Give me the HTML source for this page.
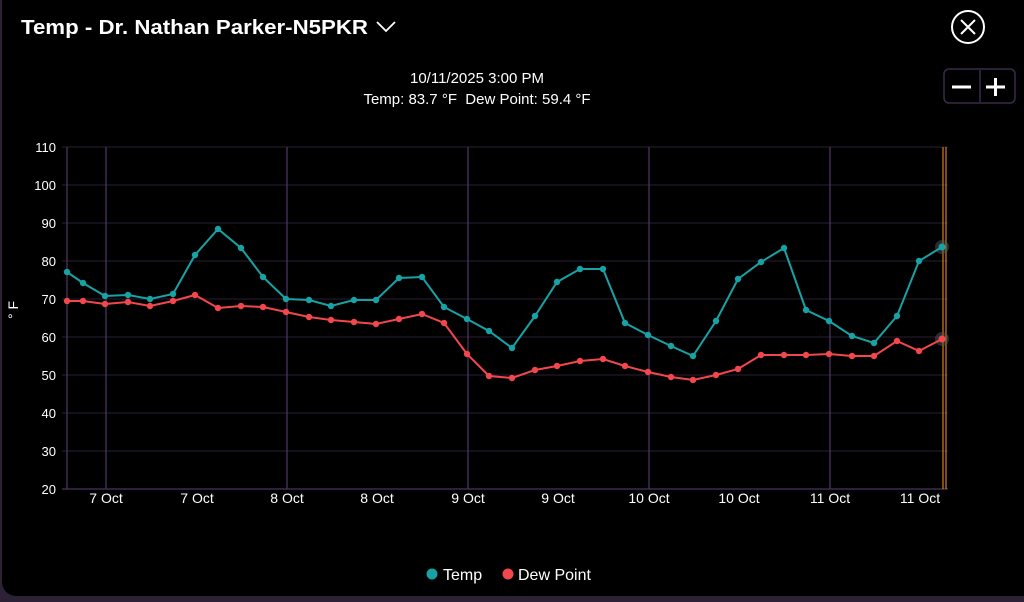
<!DOCTYPE html>
<html><head><style>
html,body{margin:0;padding:0;background:#2d2135;width:1024px;height:602px;overflow:hidden}
#card{position:absolute;left:2px;top:-20px;width:1040px;height:616px;background:#000;border-radius:14px}
svg{position:absolute;left:0;top:0}
text{font-family:"Liberation Sans",sans-serif;fill:#fff}
</style></head><body>
<div id="card"></div>
<svg width="1024" height="602" viewBox="0 0 1024 602">
<text x="21" y="34" font-size="20" font-weight="bold" textLength="347" lengthAdjust="spacingAndGlyphs">Temp - Dr. Nathan Parker-N5PKR</text>
<polyline points="377,22 386,31 395,22" fill="none" stroke="#fff" stroke-width="1.8"/>
<circle cx="968" cy="27" r="16" fill="none" stroke="#fff" stroke-width="2"/>
<path d="M961,20 L975,34 M975,20 L961,34" stroke="#fff" stroke-width="2"/>
<rect x="944" y="69" width="71" height="34" rx="5" fill="none" stroke="#3b2a4a" stroke-width="1.5"/>
<line x1="980" y1="70" x2="980" y2="102" stroke="#3b2a4a" stroke-width="1.5"/>
<path d="M952,87 L971,87 M986,87 L1005,87 M995.5,78 L995.5,96" stroke="#fff" stroke-width="3"/>
<text x="477" y="83" font-size="15" text-anchor="middle">10/11/2025 3:00 PM</text>
<text x="477" y="104" font-size="15" text-anchor="middle">Temp: 83.7 °F&#160;&#160;Dew Point: 59.4 °F</text>
<g stroke="#2a1e33" stroke-width="1">
<line x1="62" y1="147" x2="948" y2="147"/><line x1="62" y1="185" x2="948" y2="185"/>
<line x1="62" y1="223" x2="948" y2="223"/><line x1="62" y1="261" x2="948" y2="261"/>
<line x1="62" y1="299" x2="948" y2="299"/><line x1="62" y1="337" x2="948" y2="337"/>
<line x1="62" y1="375" x2="948" y2="375"/><line x1="62" y1="413" x2="948" y2="413"/>
<line x1="62" y1="451" x2="948" y2="451"/>
</g>
<g stroke="#4a3360" stroke-width="1.3">
<line x1="67" y1="147" x2="67" y2="489"/><line x1="62" y1="489" x2="948" y2="489"/>
<line x1="106" y1="147" x2="106" y2="489"/><line x1="287" y1="147" x2="287" y2="489"/>
<line x1="468" y1="147" x2="468" y2="489"/><line x1="649" y1="147" x2="649" y2="489"/>
<line x1="830" y1="147" x2="830" y2="489"/>
</g>
<line x1="943" y1="147" x2="943" y2="489" stroke="#ff9a1a" stroke-width="1"/>
<line x1="946" y1="147" x2="946" y2="489" stroke="#ff9a1a" stroke-width="1"/>
<g font-size="13" text-anchor="end">
<text x="56" y="152">110</text><text x="56" y="190">100</text><text x="56" y="228">90</text>
<text x="56" y="266">80</text><text x="56" y="304">70</text><text x="56" y="342">60</text>
<text x="56" y="380">50</text><text x="56" y="418">40</text><text x="56" y="456">30</text>
<text x="56" y="494">20</text>
</g>
<text transform="translate(18,310) rotate(-90)" font-size="14" text-anchor="middle">° F</text>
<g font-size="14" text-anchor="middle">
<text x="106" y="503">7 Oct</text><text x="197" y="503">7 Oct</text><text x="287" y="503">8 Oct</text>
<text x="377" y="503">8 Oct</text><text x="468" y="503">9 Oct</text><text x="558" y="503">9 Oct</text>
<text x="649" y="503">10 Oct</text><text x="739" y="503">10 Oct</text><text x="830" y="503">11 Oct</text>
<text x="920" y="503">11 Oct</text>
</g>
<circle cx="942" cy="247" r="7" fill="#555" opacity="0.5"/>
<circle cx="942" cy="339" r="7" fill="#555" opacity="0.5"/>
<polyline fill="none" stroke="#17a3a6" stroke-width="2" points="67,272 83,283 105,296 128,295 150,299 173,294 195,255 218,229 241,248 263,277 286,299 309,300 331,306 354,300 376,300 399,278 422,277 444,307 467,319 489,331 512,348 535,316 557,282 580,269 603,269 625,323 648,335 671,346 693,356 716,321 738,279 761,262 784,248 806,310 829,321 852,336 874,343 897,316 919,261 942,247"/>
<polyline fill="none" stroke="#f2474c" stroke-width="2" points="67,301 83,301 105,304 128,302 150,306 173,301 195,295 218,308 241,306 263,307 286,312 309,317 331,320 354,322 376,324 399,319 422,314 444,323 467,354 489,376 512,378 535,370 557,366 580,361 603,359 625,366 648,372 671,377 693,380 716,375 738,369 761,355 784,355 806,355 829,354 852,356 874,356 897,341 919,351 942,339"/>
<g fill="#17a3a6">
<circle cx="67" cy="272" r="3.2"/><circle cx="83" cy="283" r="3.2"/><circle cx="105" cy="296" r="3.2"/><circle cx="128" cy="295" r="3.2"/><circle cx="150" cy="299" r="3.2"/><circle cx="173" cy="294" r="3.2"/><circle cx="195" cy="255" r="3.2"/><circle cx="218" cy="229" r="3.2"/><circle cx="241" cy="248" r="3.2"/><circle cx="263" cy="277" r="3.2"/><circle cx="286" cy="299" r="3.2"/><circle cx="309" cy="300" r="3.2"/><circle cx="331" cy="306" r="3.2"/><circle cx="354" cy="300" r="3.2"/><circle cx="376" cy="300" r="3.2"/><circle cx="399" cy="278" r="3.2"/><circle cx="422" cy="277" r="3.2"/><circle cx="444" cy="307" r="3.2"/><circle cx="467" cy="319" r="3.2"/><circle cx="489" cy="331" r="3.2"/><circle cx="512" cy="348" r="3.2"/><circle cx="535" cy="316" r="3.2"/><circle cx="557" cy="282" r="3.2"/><circle cx="580" cy="269" r="3.2"/><circle cx="603" cy="269" r="3.2"/><circle cx="625" cy="323" r="3.2"/><circle cx="648" cy="335" r="3.2"/><circle cx="671" cy="346" r="3.2"/><circle cx="693" cy="356" r="3.2"/><circle cx="716" cy="321" r="3.2"/><circle cx="738" cy="279" r="3.2"/><circle cx="761" cy="262" r="3.2"/><circle cx="784" cy="248" r="3.2"/><circle cx="806" cy="310" r="3.2"/><circle cx="829" cy="321" r="3.2"/><circle cx="852" cy="336" r="3.2"/><circle cx="874" cy="343" r="3.2"/><circle cx="897" cy="316" r="3.2"/><circle cx="919" cy="261" r="3.2"/><circle cx="942" cy="247" r="3.5"/>
</g>
<g fill="#f2474c">
<circle cx="67" cy="301" r="3.2"/><circle cx="83" cy="301" r="3.2"/><circle cx="105" cy="304" r="3.2"/><circle cx="128" cy="302" r="3.2"/><circle cx="150" cy="306" r="3.2"/><circle cx="173" cy="301" r="3.2"/><circle cx="195" cy="295" r="3.2"/><circle cx="218" cy="308" r="3.2"/><circle cx="241" cy="306" r="3.2"/><circle cx="263" cy="307" r="3.2"/><circle cx="286" cy="312" r="3.2"/><circle cx="309" cy="317" r="3.2"/><circle cx="331" cy="320" r="3.2"/><circle cx="354" cy="322" r="3.2"/><circle cx="376" cy="324" r="3.2"/><circle cx="399" cy="319" r="3.2"/><circle cx="422" cy="314" r="3.2"/><circle cx="444" cy="323" r="3.2"/><circle cx="467" cy="354" r="3.2"/><circle cx="489" cy="376" r="3.2"/><circle cx="512" cy="378" r="3.2"/><circle cx="535" cy="370" r="3.2"/><circle cx="557" cy="366" r="3.2"/><circle cx="580" cy="361" r="3.2"/><circle cx="603" cy="359" r="3.2"/><circle cx="625" cy="366" r="3.2"/><circle cx="648" cy="372" r="3.2"/><circle cx="671" cy="377" r="3.2"/><circle cx="693" cy="380" r="3.2"/><circle cx="716" cy="375" r="3.2"/><circle cx="738" cy="369" r="3.2"/><circle cx="761" cy="355" r="3.2"/><circle cx="784" cy="355" r="3.2"/><circle cx="806" cy="355" r="3.2"/><circle cx="829" cy="354" r="3.2"/><circle cx="852" cy="356" r="3.2"/><circle cx="874" cy="356" r="3.2"/><circle cx="897" cy="341" r="3.2"/><circle cx="919" cy="351" r="3.2"/><circle cx="942" cy="339" r="3.5"/>
</g>
<circle cx="432" cy="574" r="5.5" fill="#17a3a6"/>
<text x="443" y="580" font-size="16">Temp</text>
<circle cx="508" cy="574" r="5.5" fill="#f2474c"/>
<text x="518" y="580" font-size="16">Dew Point</text>
</svg>
</body></html>
